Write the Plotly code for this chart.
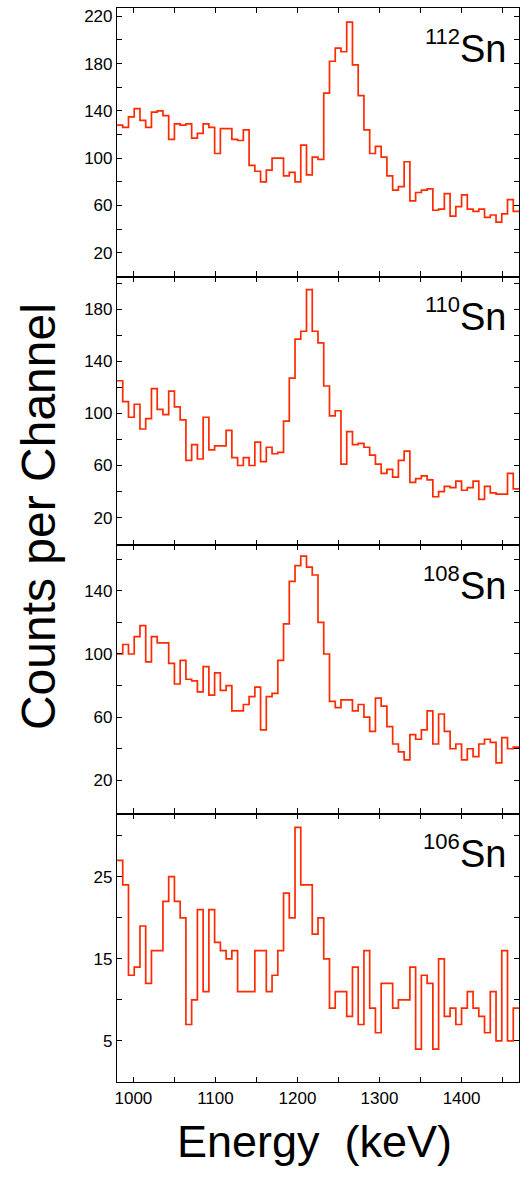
import plotly.graph_objects as go
from plotly.subplots import make_subplots

# ---------------- data ----------------
bin_start = 980.0      # keV, left edge of first channel
bin_width = 7.0        # keV per channel

sn112 = [128, 126, 135, 142, 132, 126, 139, 140, 136, 116,
         129, 128, 129, 117, 121, 129, 126, 104, 125, 125,
         116, 115, 124, 94, 89, 80, 90, 100, 100, 85,
         88, 80, 111, 86, 101, 99, 155, 182, 193, 190,
         215, 179, 153, 124, 104, 110, 101, 85, 73, 76,
         97, 64, 71, 73, 74, 56, 57, 70, 51, 59,
         69, 57, 55, 57, 50, 52, 46, 53, 65, 55]

sn110 = [125, 109, 97, 107, 88, 96, 119, 103, 99, 117,
         105, 95, 64, 76, 65, 97, 72, 75, 75, 87,
         66, 60, 66, 60, 78, 63, 74, 69, 70, 94,
         127, 157, 163, 195, 163, 154, 121, 98, 102, 61,
         86, 76, 77, 74, 68, 61, 54, 57, 51, 64,
         71, 47, 50, 52, 49, 36, 40, 44, 43, 48,
         41, 43, 48, 34, 44, 39, 38, 38, 54, 42]

sn108 = [100, 106, 100, 111, 118, 95, 111, 107, 107, 94,
         81, 96, 84, 83, 76, 92, 74, 88, 77, 80,
         64, 64, 68, 73, 79, 52, 73, 75, 96, 119,
         146, 156, 162, 155, 150, 120, 100, 70, 66, 71,
         71, 64, 68, 60, 51, 72, 67, 54, 43, 38,
         33, 49, 46, 52, 64, 43, 62, 51, 40, 43,
         33, 40, 35, 43, 46, 44, 31, 47, 40, 41]

sn106 = [27, 24, 13, 14, 19, 12, 16, 16, 22, 25,
         22, 20, 7, 10, 21, 11, 21, 17, 16, 15,
         16, 11, 11, 11, 16, 16, 11, 13, 16, 23,
         20, 31, 24, 24, 18, 20, 15, 9, 11, 11,
         8, 14, 7, 16, 9, 6, 12, 12, 9, 10,
         10, 14, 4, 13, 12, 4, 15, 8, 9, 7,
         9, 11, 9, 8, 6, 11, 5, 16, 5, 9]

panel_masses = ["112", "110", "108", "106"]
panel_series = [sn112, sn110, sn108, sn106]

x_tickvals = [1000, 1050, 1100, 1150, 1200, 1250, 1300, 1350, 1400, 1450]
x_ticktext = ["1000", "", "1100", "", "1200", "", "1300", "", "1400", ""]

y_tickvals = [
    [20, 40, 60, 80, 100, 120, 140, 160, 180, 200, 220],
    [20, 40, 60, 80, 100, 120, 140, 160, 180, 200],
    [20, 40, 60, 80, 100, 120, 140, 160],
    [5, 10, 15, 20, 25, 30],
]
y_ticktext = [
    ["20", "", "60", "", "100", "", "140", "", "180", "", "220"],
    ["20", "", "60", "", "100", "", "140", "", "180", ""],
    ["20", "", "60", "", "100", "", "140", ""],
    ["5", "", "15", "", "25", ""],
]
y_ranges = [[0, 227], [-1, 205], [-1, 169], [0, 32.7]]
x_range = [980, 1470]

# ---------------- figure ----------------
FONT = "Liberation Sans, Arial, sans-serif"
RED = "#ff2a00"

fig = make_subplots(rows=4, cols=1, shared_xaxes=True, vertical_spacing=0)

for r, vals in enumerate(panel_series, start=1):
    n = len(vals)
    edges = [bin_start + bin_width * i for i in range(n + 1)]
    fig.add_trace(
        go.Scatter(
            x=edges,
            y=list(vals) + [vals[-1]],
            mode="lines",
            line=dict(shape="hv", color=RED, width=1.7),
            showlegend=False,
            hoverinfo="skip",
        ),
        row=r, col=1,
    )
    fig.update_yaxes(
        range=y_ranges[r - 1],
        tickmode="array",
        tickvals=y_tickvals[r - 1],
        ticktext=y_ticktext[r - 1],
        ticks="inside", ticklen=5, tickwidth=1.4, tickcolor="black",
        showline=True, linecolor="black", linewidth=1.2, mirror="ticks",
        showgrid=False, zeroline=False,
        tickfont=dict(family=FONT, size=17, color="black"),
        row=r, col=1,
    )
    fig.update_xaxes(
        range=x_range,
        tickmode="array",
        tickvals=x_tickvals,
        ticktext=x_ticktext,
        ticks="inside", ticklen=5, tickwidth=1.4, tickcolor="black",
        showline=True, linecolor="black", linewidth=1.2, mirror="ticks",
        showgrid=False, zeroline=False,
        tickfont=dict(family=FONT, size=17, color="black"),
        showticklabels=(r == 4),
        row=r, col=1,
    )
    xref = "x domain" if r == 1 else f"x{r} domain"
    yref = "y domain" if r == 1 else f"y{r} domain"
    fig.add_annotation(
        text="Sn", xref=xref, yref=yref, x=0.972, y=0.849,
        xanchor="right", yanchor="middle", showarrow=False,
        font=dict(family=FONT, size=38, color="black"),
    )
    fig.add_annotation(
        text=panel_masses[r - 1], xref=xref, yref=yref, x=0.858, y=0.895,
        xanchor="right", yanchor="middle", showarrow=False,
        font=dict(family=FONT, size=22, color="black"),
    )

fig.add_annotation(
    text="Counts per Channel", xref="paper", yref="paper",
    x=-0.1965, y=0.526, textangle=-90, showarrow=False,
    xanchor="center", yanchor="middle",
    font=dict(family=FONT, size=48, color="black"),
)
fig.add_annotation(
    text="Energy\u00a0 (keV)", xref="paper", yref="paper",
    x=0.4925, y=-0.055, showarrow=False,
    xanchor="center", yanchor="middle",
    font=dict(family=FONT, size=45, color="black"),
)

fig.update_layout(
    width=523, height=1178,
    margin=dict(l=117, r=4, t=8, b=96),
    paper_bgcolor="white", plot_bgcolor="white",
)

fig.write_html("out.html")
